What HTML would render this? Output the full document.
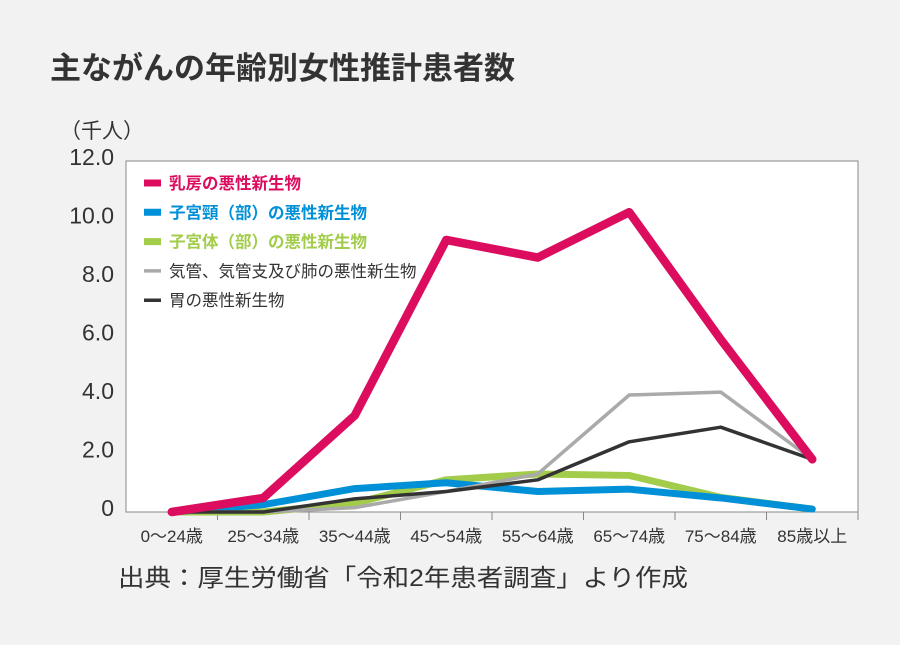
<!DOCTYPE html>
<html><head><meta charset="utf-8"><style>
body{margin:0;background:#f2f2f2;font-family:"Liberation Sans","Noto Sans CJK JP",sans-serif;}
svg text{font-family:"Liberation Sans","Noto Sans CJK JP",sans-serif;}
</style></head><body>
<svg id="chart" width="900" height="640" xmlns="http://www.w3.org/2000/svg">
<rect width="900" height="640" fill="#f2f2f2"/>
<text x="50" y="79" font-size="31" font-weight="bold" fill="#333">主ながんの年齢別女性推計患者数</text>
<text x="60" y="138" font-size="21" fill="#333">（千人）</text>
<rect x="126" y="161" width="732" height="351" fill="#fff" stroke="#888" stroke-width="1"/>
<g id="ticks"></g>
<g id="series"></g>
<g id="legend"></g>
<text x="118" y="586" font-size="24" fill="#333" textLength="570" lengthAdjust="spacingAndGlyphs">出典：厚生労働省「令和2年患者調査」より作成</text>
</svg>
<script>
const categories=["0〜24歳","25〜34歳","35〜44歳","45〜54歳","55〜64歳","65〜74歳","75〜84歳","85歳以上"];
const yTicks=[0,2,4,6,8,10,12];
const yTickLabels=["0","2.0","4.0","6.0","8.0","10.0","12.0"];
const breast=[0,0.48,3.3,9.3,8.7,10.25,5.9,1.8];
const cervix=[0,0.25,0.8,1.0,0.7,0.78,0.48,0.1];
const uterus=[0,0,0.3,1.1,1.3,1.25,0.5,0.1];
const lung=[0,0,0.15,0.7,1.3,4.0,4.1,1.8];
const stomach=[0,0,0.45,0.7,1.1,2.4,2.9,1.8];
const seriesNames=["乳房の悪性新生物","子宮頸（部）の悪性新生物","子宮体（部）の悪性新生物","気管、気管支及び肺の悪性新生物","胃の悪性新生物"];
const NS="http://www.w3.org/2000/svg";
const L=126,R=858,T=161,B=512,bw=(R-L)/categories.length;
const xs=i=>L+bw*(i+0.5);
const ys=v=>B-v*(B-T)/12;
const tk=document.getElementById('ticks');
yTicks.forEach((v,i)=>{
 const t=document.createElementNS(NS,'text');
 
 
 t.setAttribute('x',114);t.setAttribute('y',ys(v)+4);t.setAttribute('text-anchor','end');
 t.setAttribute('font-size','23');t.setAttribute('fill','#333');t.textContent=yTickLabels[i];tk.appendChild(t);
});
categories.forEach((c,i)=>{
 const l=document.createElementNS(NS,'line');
 
 
 l.setAttribute('x1',L+bw*(i+1));l.setAttribute('x2',L+bw*(i+1));l.setAttribute('y1',B);l.setAttribute('y2',B+8);l.setAttribute('stroke','#888');tk.appendChild(l);
 const t=document.createElementNS(NS,'text');
 
 
 t.setAttribute('x',xs(i));t.setAttribute('y',542);t.setAttribute('text-anchor','middle');
 t.setAttribute('font-size','17');t.setAttribute('fill','#333');t.textContent=c;tk.appendChild(t);
});
const sg=document.getElementById('series');
const defs=[[uterus,'#a2cc4a',7,'series-uterus'],[cervix,'#0090d8',7,'series-cervix'],[lung,'#aaaaaa',3.5,'series-lung'],[stomach,'#333333',3.5,'series-stomach'],[breast,'#dc0d5e',8.5,'series-breast']];
defs.forEach(d=>{
 const p=document.createElementNS(NS,'polyline');
 
 
 p.setAttribute('points',d[0].map((v,i)=>xs(i)+','+ys(v)).join(' '));
 p.setAttribute('fill','none');p.setAttribute('stroke',d[1]);p.setAttribute('stroke-width',d[2]);
 p.setAttribute('stroke-linejoin','round');p.setAttribute('stroke-linecap','round');sg.appendChild(p);
});
const lg=document.getElementById('legend');
const lc=[['#dc0d5e',7,true,'#dc0d5e'],['#0090d8',7,true,'#0090d8'],['#a2cc4a',7,true,'#a2cc4a'],['#aaaaaa',3.5,false,'#333'],['#333333',3.5,false,'#333']];
seriesNames.forEach((n,i)=>{
 const y=183+29.3*i;
 const l=document.createElementNS(NS,'line');
 
 
 l.setAttribute('x1',144);l.setAttribute('x2',161);l.setAttribute('y1',y);l.setAttribute('y2',y);
 l.setAttribute('stroke',lc[i][0]);l.setAttribute('stroke-width',lc[i][1]);lg.appendChild(l);
 const t=document.createElementNS(NS,'text');
 
 
 t.setAttribute('x',169);t.setAttribute('y',y+6);t.setAttribute('font-size','16.5');
 t.setAttribute('fill',lc[i][3]);if(lc[i][2])t.setAttribute('font-weight','bold');
 t.textContent=n;lg.appendChild(t);
});
</script>
</body></html>
